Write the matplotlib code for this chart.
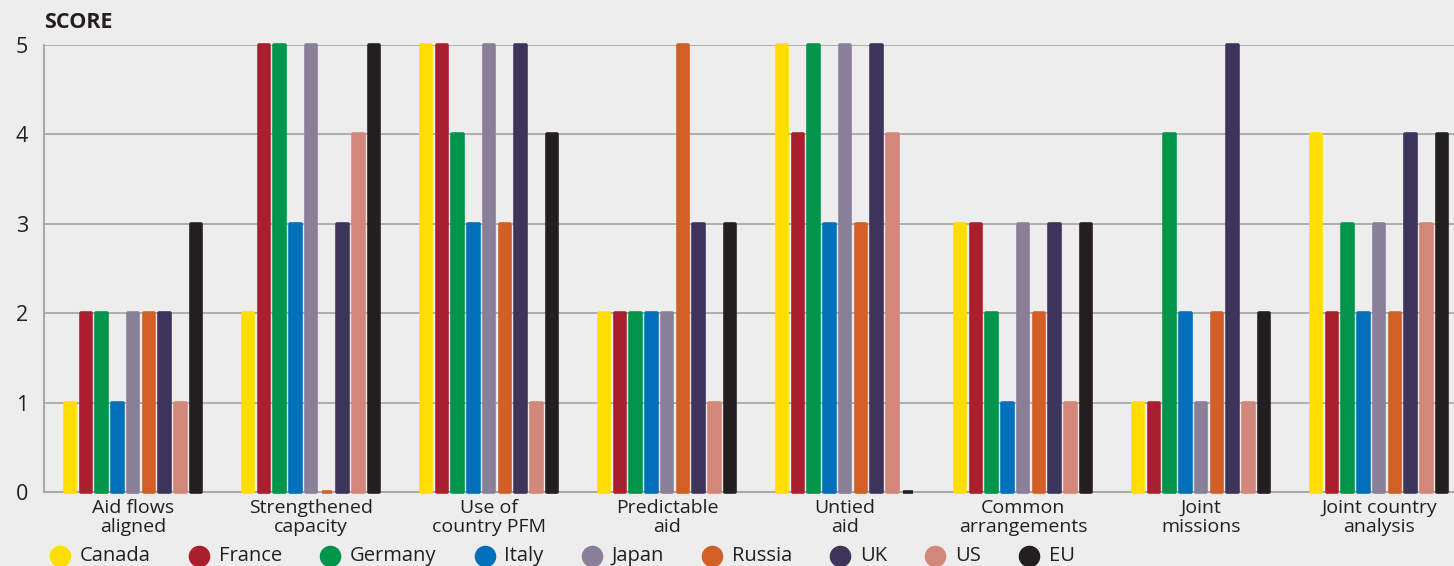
import matplotlib
matplotlib.use("Agg")
import matplotlib.pyplot as plt
from matplotlib.lines import Line2D
import numpy as np

categories = ["Aid flows\naligned", "Strengthened\ncapacity", "Use of\ncountry PFM",
              "Predictable\naid", "Untied\naid", "Common\narrangements",
              "Joint\nmissions", "Joint country\nanalysis"]
donors = ["Canada", "France", "Germany", "Italy", "Japan", "Russia", "UK", "US", "EU"]

canada  = [1, 2, 5, 2, 5, 3, 1, 4]
france  = [2, 5, 5, 2, 4, 3, 1, 2]
germany = [2, 5, 4, 2, 5, 2, 4, 3]
italy   = [1, 3, 3, 2, 3, 1, 2, 2]
japan   = [2, 5, 5, 2, 5, 3, 1, 3]
russia  = [2, 0, 3, 5, 3, 2, 2, 2]
uk      = [2, 3, 5, 3, 5, 3, 5, 4]
us      = [1, 4, 1, 1, 4, 1, 1, 3]
eu      = [3, 5, 4, 3, 0, 3, 2, 4]
scores = [canada, france, germany, italy, japan, russia, uk, us, eu]

colors = ["#FFDD00", "#AA1F2E", "#00954B", "#0070BA", "#8A7F99",
          "#D45F26", "#3C345A", "#D3877A", "#231F20"]
yticks = [0, 1, 2, 3, 4, 5]

W, H = 1454, 566
fig = plt.figure(figsize=(W / 100, H / 100), dpi=100)
bg = "#EDEDED"
fig.patch.set_facecolor(bg)
plt.rcParams["font.family"] = ["Open Sans", "DejaVu Sans"]
text_c = "#231F20"

left_px, right_px, top_px, bottom_px = 44, 44 + 8 * 178, 45, 492
ax = fig.add_axes([left_px / W, 1 - bottom_px / H,
                   (right_px - left_px) / W, (bottom_px - top_px) / H])
ax.set_facecolor(bg)

x = np.arange(len(categories))
step = 15.75 / 178
fill_w = 10.5 / 178
for i, (vals, c) in enumerate(zip(scores, colors)):
    bars = ax.bar(x + (i - 4) * step, vals, width=fill_w, color=c,
                  edgecolor=c, linewidth=2.6, zorder=3)
    for b in bars:
        b.set_joinstyle("round")
        b.set_clip_on(False)

ax.set_xlim(-0.5, len(categories) - 0.5)
ax.set_ylim(0, 5)
ax.set_yticks(yticks)
ax.set_yticklabels([str(t) for t in yticks], fontsize=15.5, color=text_c)
ax.set_xticks(x)
ax.set_xticklabels(categories, fontsize=14, color=text_c, linespacing=1.1)
ax.tick_params(axis="both", length=0)
ax.tick_params(axis="y", pad=11.5)
ax.tick_params(axis="x", pad=5)

ax.grid(axis="y", color="#A9A9A9", linewidth=1.3, zorder=1)
for s in ["top", "right"]:
    ax.spines[s].set_visible(False)
for s in ["left", "bottom"]:
    ax.spines[s].set_color("#A9A9A9")
    ax.spines[s].set_linewidth(1.5)
    ax.spines[s].set_zorder(2)

fig.text(44 / W, 1 - 22 / H, "SCORE", fontsize=15.5, fontweight="bold",
         color=text_c, va="center", ha="left")

# Key row: circle marker followed by donor name, laid out left to right
renderer = fig.canvas.get_renderer()
key_y = 1 - 556 / H
cx = 60.0
for name, c in zip(donors, colors):
    fig.add_artist(Line2D([cx / W], [key_y], transform=fig.transFigure,
                          marker="o", markersize=14.5, linestyle="none",
                          markerfacecolor=c, markeredgecolor=c))
    t = fig.text((cx + 20) / W, key_y, name, fontsize=14.5, color=text_c,
                 va="center", ha="left")
    ext = t.get_window_extent(renderer)
    cx = ext.x1 + 48

fig.savefig("out.png", dpi=100, facecolor=bg)
